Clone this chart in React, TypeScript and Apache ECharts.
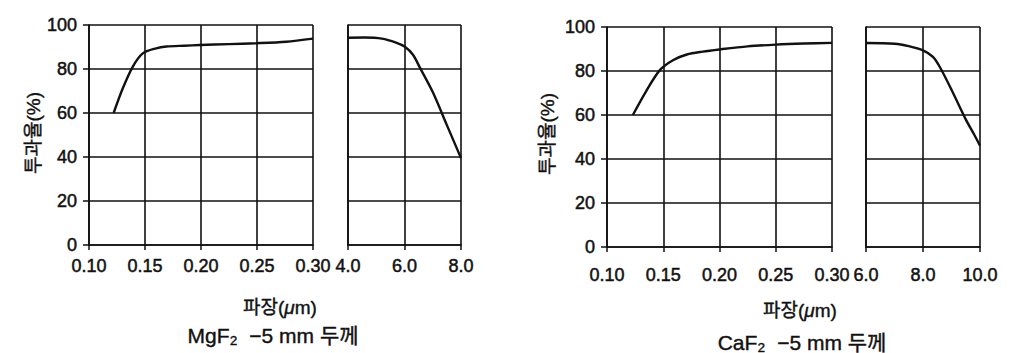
import React, { useEffect, useRef } from "react";
import * as echarts from "echarts";

// MgF2 - 5 mm thickness
const mgUvX = [0.122, 0.130, 0.139, 0.148, 0.160, 0.169, 0.185, 0.199, 0.225, 0.249, 0.276, 0.30];
const mgUvY = [60, 71, 81, 87.1, 89.4, 90.2, 90.6, 90.9, 91.3, 91.7, 92.4, 93.8];
const mgIrX = [4.0, 4.6, 5.2, 5.7, 6.0, 6.3, 6.55, 7.0, 7.5, 8.0];
const mgIrY = [94.2, 94.3, 93.8, 92.0, 90.2, 86.5, 80.5, 69.5, 54.5, 39.5];

// CaF2 - 5 mm thickness
const caUvX = [0.123, 0.135, 0.147, 0.159, 0.171, 0.185, 0.20, 0.225, 0.25, 0.275, 0.30];
const caUvY = [60, 71, 80.4, 85, 87.5, 88.8, 89.8, 91.2, 92, 92.5, 92.8];
const caIrX = [6.0, 7.0, 7.5, 8.0, 8.35, 8.6, 9.0, 9.5, 9.8, 10.0];
const caIrY = [92.7, 92.4, 91.3, 89.4, 86.4, 81.6, 71.5, 58, 51, 46];

const yTicks = [0, 20, 40, 60, 80, 100];
const uvRange = { min: 0.1, max: 0.3, step: 0.05 };
const mgIrRange = { min: 4, max: 8, step: 2 };
const caIrRange = { min: 6, max: 10, step: 2 };

const yLabel = "투과율(%)";
const xLabel = "파장({i|μ}m)";
const mgTitle = "MgF₂  −5 mm 두께";
const caTitle = "CaF₂  −5 mm 두께";

const INK = "#111111";
const FONT = "'Liberation Sans', 'Noto Sans CJK KR', sans-serif";

function zip(xs: number[], ys: number[]) {
  return xs.map((x, i) => [x, ys[i]]);
}

export default function App() {
  const ref = useRef<HTMLDivElement>(null);
  useEffect(() => {
    if (!ref.current) return;
    const chart = echarts.init(ref.current, null, { renderer: "svg" });
    const grids = [
      { left: 89, top: 25, width: 224, height: 220 },
      { left: 348, top: 25, width: 113, height: 220 },
      { left: 607, top: 27, width: 225, height: 220 },
      { left: 866, top: 27, width: 114, height: 220 },
    ];
    const lineStyle = { color: INK, width: 1.6 };
    const bold = { textBorderColor: INK, textBorderWidth: 0.5 };
    const mkX = (gi: number, r: { min: number; max: number; step: number }, dec: number, margin: number) => ({
      type: "value",
      gridIndex: gi,
      min: r.min,
      max: r.max,
      interval: r.step,
      axisLine: { show: true, lineStyle: { color: INK, width: 1.7 } },
      axisTick: { show: true, inside: false, length: 5, lineStyle: { color: INK, width: 1.5 } },
      axisLabel: {
        color: INK,
        fontFamily: FONT,
        fontSize: 18,
        margin,
        ...bold,
        formatter: (v: number) => v.toFixed(dec),
      },
      splitLine: { show: true, lineStyle },
    });
    const mkY = (gi: number, labels: boolean) => ({
      type: "value",
      gridIndex: gi,
      min: yTicks[0],
      max: yTicks[yTicks.length - 1],
      interval: 20,
      axisLine: { show: true, lineStyle: { color: INK, width: 1.7 } },
      axisTick: { show: labels, inside: false, length: 6, lineStyle: { color: INK, width: 1.5 } },
      axisLabel: { show: labels, color: INK, fontFamily: FONT, fontSize: 18, margin: 12, ...bold },
      splitLine: { show: true, lineStyle },
    });
    const mkSeries = (i: number, xs: number[], ys: number[]) => ({
      type: "line",
      xAxisIndex: i,
      yAxisIndex: i,
      data: zip(xs, ys),
      smooth: 0.3,
      showSymbol: false,
      symbol: "none",
      lineStyle: { color: INK, width: 2.4 },
    });
    const txt = (x: number, y: number, text: string, size: number, rotation = 0) => ({
      type: "text",
      x,
      y,
      rotation,
      style: {
        text,
        fill: INK,
        fontSize: size,
        fontFamily: FONT,
        textAlign: "center",
        textVerticalAlign: "middle",
        stroke: INK,
        lineWidth: 0.4,
        rich: { i: { fontStyle: "italic", fontSize: size, fontFamily: FONT, fill: INK } },
      },
    });
    chart.setOption({
      animation: false,
      backgroundColor: "#ffffff",
      grid: grids.map((g) => ({ ...g, containLabel: false })),
      xAxis: [
        mkX(0, uvRange, 2, 12),
        mkX(1, mgIrRange, 1, 12),
        mkX(2, uvRange, 2, 19),
        mkX(3, caIrRange, 1, 19),
      ],
      yAxis: [mkY(0, true), mkY(1, false), mkY(2, true), mkY(3, false)],
      series: [
        mkSeries(0, mgUvX, mgUvY),
        mkSeries(1, mgIrX, mgIrY),
        mkSeries(2, caUvX, caUvY),
        mkSeries(3, caIrX, caIrY),
      ],
      graphic: [
        txt(33, 133, yLabel, 19, Math.PI / 2),
        txt(280, 307, xLabel, 19),
        txt(273, 335, mgTitle, 21),
        txt(547, 134, yLabel, 19, Math.PI / 2),
        txt(800, 310, xLabel, 19),
        txt(802, 342, caTitle, 21),
      ],
    });
    return () => chart.dispose();
  }, []);
  return (
    <div
      ref={ref}
      style={{ position: "fixed", left: 0, top: 0, width: 1017, height: 353, background: "#fff" }}
    />
  );
}
